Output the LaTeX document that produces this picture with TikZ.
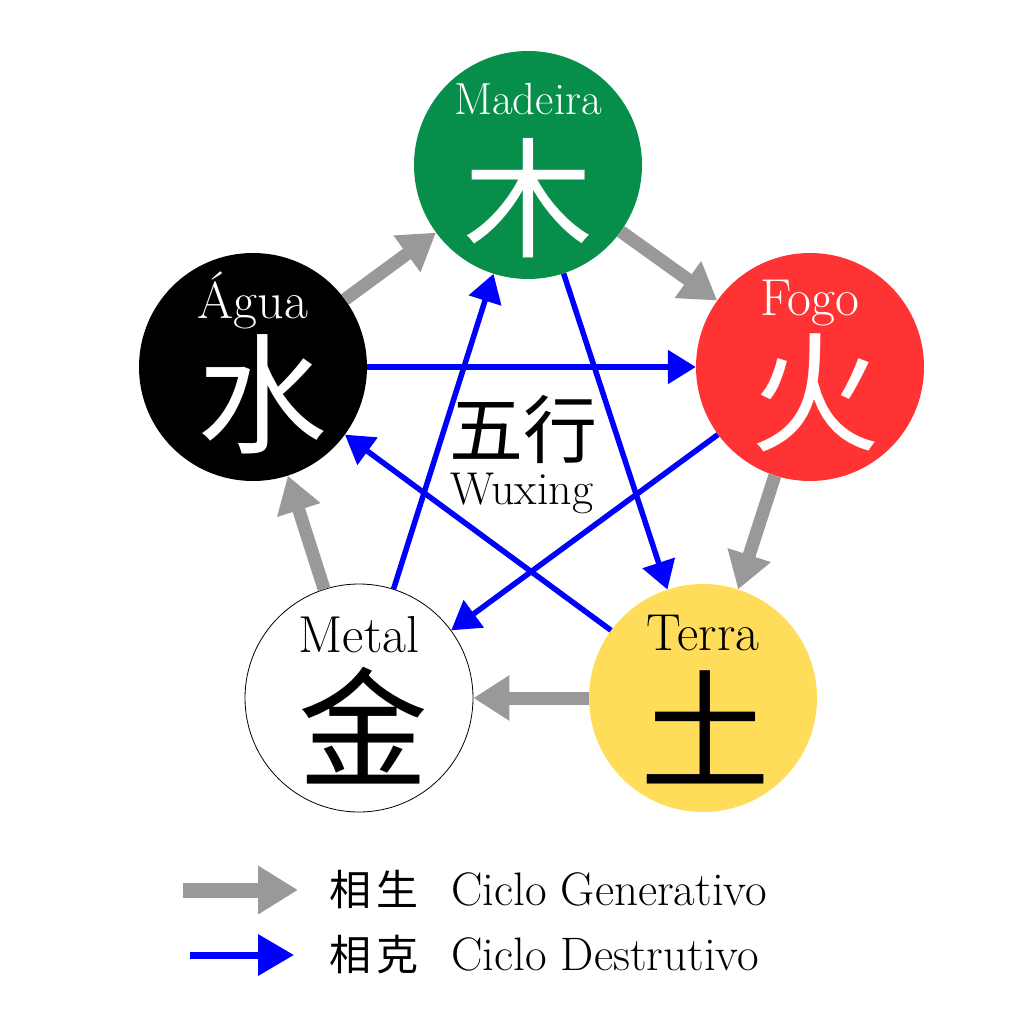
\documentclass[tikz,border=0pt]{standalone}
\usepackage{fontspec}
\newfontfamily\cjk{Noto Sans CJK SC}
\usetikzlibrary{arrows.meta}
\definecolor{madeiragreen}{RGB}{7,142,75}
\definecolor{fogored}{RGB}{255,51,51}
\definecolor{terrayellow}{RGB}{255,221,90}
\definecolor{arrowgray}{RGB}{153,153,153}
\tikzset{
  elem/.style={circle,minimum size=228pt,inner sep=0pt},
  elname/.style={anchor=base,inner sep=0pt,font=\fontsize{52}{56}\selectfont},
  elchar/.style={inner sep=0pt,font=\cjk\fontsize{130}{136}\selectfont},
  gen/.style={arrowgray,line width=13pt,-{Triangle[length=36pt,width=43pt]}},
  des/.style={blue,line width=5.5pt,-{Triangle[length=28pt,width=33pt]}}
}
\begin{document}
\begin{tikzpicture}[x=1pt,y=-1pt]
  \fill[white] (0,0) rectangle (1024,1024);
  \useasboundingbox (0,0) rectangle (1024,1024);
  % elementos
  \node[elem,fill=madeiragreen] (madeira) at (528,165) {};
  \node[elem,fill=fogored] (fogo) at (810,367) {};
  \node[elem,fill=terrayellow] (terra) at (703,698) {};
  \node[elem,fill=white,draw=black,line width=0.8pt] (metal) at (359,698) {};
  \node[elem,fill=black] (agua) at (253,367) {};
  % ciclo generativo
  \draw[gen] (agua) -- (madeira);
  \draw[gen] (madeira) -- (fogo);
  \draw[gen] (fogo) -- (terra);
  \draw[gen] (terra) -- (metal);
  \draw[gen] (metal) -- (agua);
  % ciclo destrutivo
  \draw[des] (madeira) -- (terra);
  \draw[des] (terra) -- (agua);
  \draw[des] (agua) -- (fogo);
  \draw[des] (fogo) -- (metal);
  \draw[des] (metal) -- (madeira);
  % nomes
  \node[elname,white,font=\fontsize{45}{50}\selectfont] (madeiraname) at (528,115) {Madeira};
  \node[elname,white] (fogoname) at (810,315) {Fogo};
  \node[elname] (terraname) at (703,650) {Terra};
  \node[elname] (metalname) at (359,652) {Metal};
  \node[elname,white] (aguaname) at (253,318) {Água};
  \node[elchar,white] (madeirachar) at (528,198) {木};
  \node[elchar,white] (fogochar) at (815,393) {火};
  \node[elchar] (terrachar) at (705,727) {土};
  \node[elchar] (metalchar) at (363,726) {金};
  \node[elchar,white] (aguachar) at (262,394) {水};
  % centro
  \node[inner sep=0pt,font=\cjk\fontsize{74}{80}\selectfont] (wuxingchar) at (523,429) {五行};
  \node[anchor=base,inner sep=0pt,font=\fontsize{46}{50}\selectfont] (wuxing) at (522,504) {Wuxing};
  % legenda
  \coordinate (gena) at (183,890);
  \coordinate (genb) at (298,890);
  \coordinate (desa) at (190,955);
  \coordinate (desb) at (294,955);
  \draw[gen,line width=15pt,-{Triangle[length=40pt,width=46pt]}] (gena) -- (genb);
  \draw[des,line width=7pt,-{Triangle[length=36pt,width=40pt]}] (desa) -- (desb);
  \node[inner sep=0pt,font=\cjk\fontsize{42}{46}\selectfont] (xiangsheng) at (374,890) {相\hspace{6pt}生};
  \node[inner sep=0pt,font=\cjk\fontsize{42}{46}\selectfont] (xiangke) at (374,955) {相\hspace{6pt}克};
  \node[anchor=base west,inner sep=0pt,font=\fontsize{47}{50}\selectfont] (generativo) at (451,905) {Ciclo Generativo};
  \node[anchor=base west,inner sep=0pt,font=\fontsize{47}{50}\selectfont] (destrutivo) at (451,970) {Ciclo Destrutivo};
\end{tikzpicture}
\end{document}
